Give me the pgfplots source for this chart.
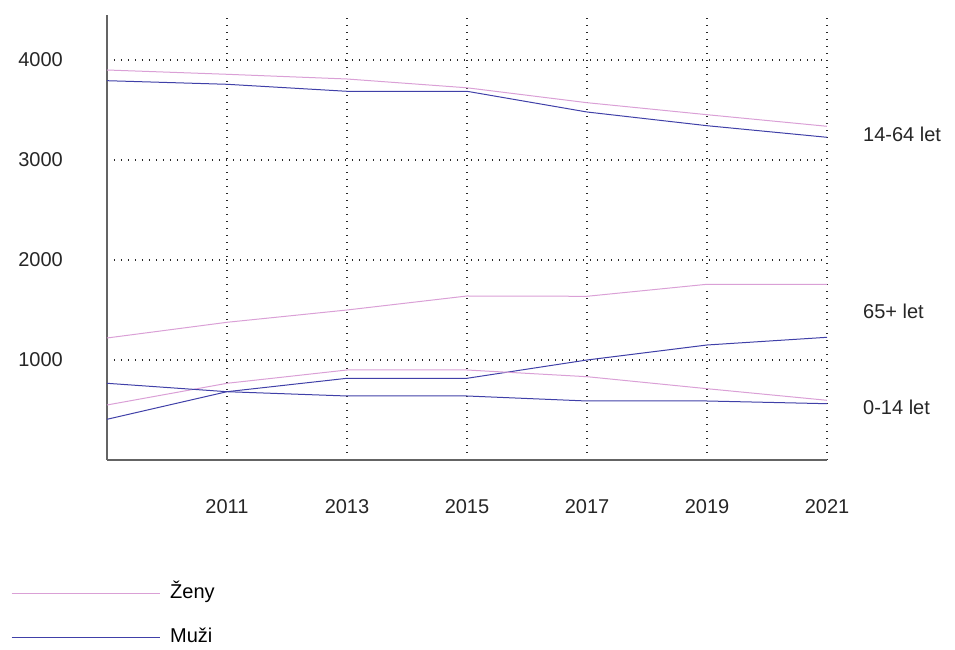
\documentclass[border=0pt]{standalone}
\usepackage{fontspec}
\setmainfont{Liberation Sans}
\usepackage{pgfplots}
\pgfplotsset{compat=1.18}
\definecolor{zenycol}{RGB}{218,160,214}
\definecolor{muzicol}{RGB}{64,64,168}
\definecolor{gridcol}{RGB}{40,40,40}
\definecolor{axcol}{RGB}{100,100,100}
\begin{document}
\begin{tikzpicture}
\path (-107pt,-188pt) rectangle (848pt,460pt);
\begin{axis}[
  at={(0pt,0pt)}, anchor=south west,
  scale only axis, width=720pt, height=445pt,
  xmin=2009, xmax=2021, ymin=0, ymax=4450,
  axis lines=left,
  axis line style={draw=axcol, line width=1.3pt, -},
  xtick={2011,2013,...,2021}, ytick={1000,2000,3000,4000},
  major tick length=0pt,
  grid=major,
  major grid style={draw=gridcol, line width=1.4pt, dash pattern=on 1.4pt off 5.6pt},
  /pgf/number format/assume math mode=true,
  /pgf/number format/1000 sep={},
  ticklabel style={font=\fontsize{20}{24}\selectfont, text=black!85},
  yticklabel style={inner sep=0pt, xshift=-44pt},
  xticklabel style={inner sep=0pt, yshift=-39pt},
  clip=false,
  legend style={at={(0,0)}, anchor=north west, xshift=-99pt, yshift=-121pt,
    draw=none, fill=none, font=\fontsize{20}{24}\selectfont,
    row sep=24pt, column sep=10pt,
    nodes={inner sep=0pt, text height=15pt, text depth=5pt}},
  legend cell align=left,
  legend image code/.code={\draw[#1] (0pt,0pt) -- (148pt,0pt);},
]
% Zeny 14-64
\addplot[zenycol, line width=1pt] coordinates {(2009,3900)(2011,3857)(2013,3810)(2015,3722)(2017,3573)(2019,3453)(2021,3337)};
\addlegendentry{Ženy}
% Muzi 14-64
\addplot[muzicol, line width=1pt] coordinates {(2009,3793)(2011,3757)(2013,3687)(2015,3687)(2017,3480)(2019,3343)(2021,3227)};
\addlegendentry{Muži}
% Zeny 65+
\addplot[zenycol, line width=1pt, forget plot] coordinates {(2009,1220)(2011,1377)(2013,1500)(2015,1640)(2017,1637)(2019,1757)(2021,1757)};
% Muzi 65+
\addplot[muzicol, line width=1pt, forget plot] coordinates {(2009,407)(2011,683)(2013,817)(2015,817)(2017,1000)(2019,1150)(2021,1227)};
% Zeny 0-14
\addplot[zenycol, line width=1pt, forget plot] coordinates {(2009,550)(2011,767)(2013,900)(2015,900)(2017,833)(2019,713)(2021,597)};
% Muzi 0-14
\addplot[muzicol, line width=1pt, forget plot] coordinates {(2009,767)(2011,683)(2013,640)(2015,640)(2017,590)(2019,590)(2021,563)};
\node[anchor=west, inner sep=0pt, xshift=36pt, font=\fontsize{20}{24}\selectfont, text=black!85] at (axis cs:2021,3260) {14-64 let};
\node[anchor=west, inner sep=0pt, xshift=36pt, font=\fontsize{20}{24}\selectfont, text=black!85] at (axis cs:2021,1490) {65+ let};
\node[anchor=west, inner sep=0pt, xshift=36pt, font=\fontsize{20}{24}\selectfont, text=black!85] at (axis cs:2021,530) {0-14 let};
\end{axis}
\end{tikzpicture}
\end{document}
